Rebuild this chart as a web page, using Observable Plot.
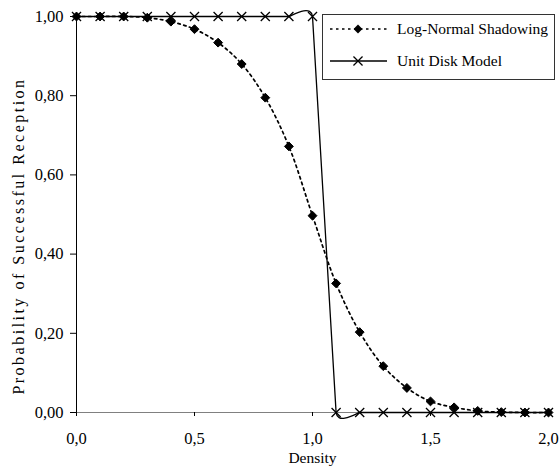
<!DOCTYPE html>
<html><head><meta charset="utf-8">
<script src="https://cdn.jsdelivr.net/npm/d3@7"></script>
<script src="https://cdn.jsdelivr.net/npm/@observablehq/plot@0.6"></script>
<style>
body{margin:0;background:#fff;}
#wrap{position:relative;width:559px;height:473px;font-family:"Liberation Serif","Times New Roman",serif;background:#fff;}
</style></head><body><div id="wrap"></div>
<script>
const density = [0.0,0.1,0.2,0.3,0.4,0.5,0.6,0.7,0.8,0.9,1.0,1.1,1.2,1.3,1.4,1.5,1.6,1.7,1.8,1.9,2.0];
const logNormal = [1.0,1.0,1.0,0.997,0.987,0.968,0.934,0.880,0.795,0.672,0.497,0.326,0.203,0.117,0.062,0.028,0.013,0.004,0.001,0.0,0.0];
const unitDisk = [1,1,1,1,1,1,1,1,1,1,1,0,0,0,0,0,0,0,0,0,0];
const seriesNames = ["Log-Normal Shadowing","Unit Disk Model"];
const xTicks = [0,0.5,1.0,1.5,2.0];
const yTicks = [0,0.2,0.4,0.6,0.8,1.0];
const xTitle = "Density";
const yTitle = "Probability of Successful Reception";

const lnData = density.map((x,i)=>({x, y: logNormal[i]}));
const udData = density.map((x,i)=>({x, y: unitDisk[i]}));
const fmtX = d => d.toFixed(1).replace(".", ",");
const fmtY = d => d.toFixed(2).replace(".", ",");
const font = '"Liberation Serif","Times New Roman",serif';
const dash = "2.5,3.5";

const chart = Plot.plot({
  width: 559, height: 473,
  marginLeft: 76, marginRight: 11, marginTop: 16, marginBottom: 61,
  style: {fontFamily: font, fontSize: "16px", color: "#000", background: "#fff", overflow: "visible"},
  x: {domain: [0, 2]},
  y: {domain: [0, 1]},
  marks: [
    Plot.ruleY([0], {stroke: "#808080", strokeWidth: 1}),
    Plot.ruleX([0], {stroke: "#000", strokeWidth: 1}),
    Plot.axisX({ticks: xTicks, tickFormat: fmtX, tickSize: 4, tickPadding: 16, label: null, fontSize: 16.5}),
    Plot.axisY({ticks: yTicks, tickFormat: fmtY, tickSize: 6, tickPadding: 7, label: null, fontSize: 16.5}),
    Plot.line(udData, {x: "x", y: "y", curve: "cardinal", tension: 0.8, stroke: "#000", strokeWidth: 1.3}),
    Plot.line(lnData, {x: "x", y: "y", curve: "catmull-rom", stroke: "#000", strokeWidth: 1.7, strokeDasharray: dash}),
    Plot.dot(udData, {x: "x", y: "y", symbol: "times", r: 4.2, stroke: "#000", strokeWidth: 1.3}),
    Plot.dot(lnData, {x: "x", y: "y", symbol: "diamond2", r: 4, fill: "#000", stroke: "#000", strokeWidth: 1}),
    Plot.text([xTitle], {frameAnchor: "bottom", dy: 50, fontSize: 15.5})
  ]
});
const wrap = document.getElementById("wrap");
wrap.appendChild(chart);

// y-axis title
const yt = d3.create("svg").attr("width", 40).attr("height", 473)
  .style("position", "absolute").style("left", "0px").style("top", "0px").style("overflow", "visible");
yt.append("text").attr("transform", "translate(18,236) rotate(-90)")
  .attr("text-anchor", "middle").attr("dy", "0.35em")
  .attr("font-family", font).attr("font-size", 16).attr("letter-spacing", 2.5)
  .text(yTitle);
wrap.appendChild(yt.node());

// legend
const lw = 233, lh = 66;
const leg = d3.create("svg").attr("width", lw).attr("height", lh)
  .style("position", "absolute").style("left", "322px").style("top", "14px");
leg.append("rect").attr("x", 0.5).attr("y", 0.5).attr("width", lw - 1).attr("height", lh - 1)
  .attr("fill", "#fff").attr("stroke", "#333");
const rows = [15, 47];
seriesNames.forEach((name, i) => {
  const g = leg.append("g").attr("transform", `translate(0,${rows[i]})`);
  g.append("line").attr("x1", 8).attr("x2", 65).attr("y1", 0).attr("y2", 0)
    .attr("stroke", "#000").attr("stroke-width", i === 0 ? 1.7 : 1.3)
    .attr("stroke-dasharray", i === 0 ? dash : null);
  if (i === 0) {
    g.append("path").attr("d", d3.symbol(d3.symbolDiamond2, Math.PI * 16)()).attr("transform", "translate(36,0)").attr("fill", "#000");
  } else {
    g.append("path").attr("d", d3.symbol(d3.symbolTimes, Math.PI * 4.2 * 4.2)()).attr("transform", "translate(36,0)")
      .attr("fill", "none").attr("stroke", "#000").attr("stroke-width", 1.3);
  }
  g.append("text").attr("x", 75).attr("y", 0).attr("dy", "0.35em")
    .attr("font-family", font).attr("font-size", 15.5).text(name);
});
wrap.appendChild(leg.node());
</script>
</body></html>
